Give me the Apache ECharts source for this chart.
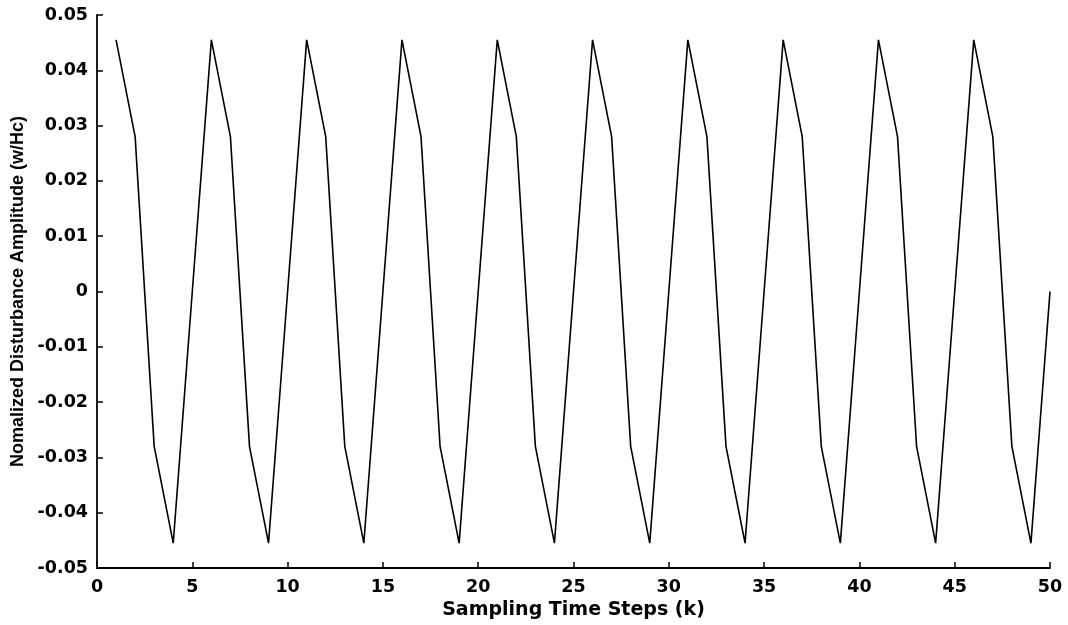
<!DOCTYPE html>
<html><head><meta charset="utf-8">
<script src="https://cdn.jsdelivr.net/npm/echarts@6/dist/echarts.min.js"></script>
<style>html,body{margin:0;padding:0;background:#fff}#c{width:1068px;height:625px}</style>
</head><body><div id="c"></div>
<script>
const steps = [1,2,3,4,5,6,7,8,9,10,11,12,13,14,15,16,17,18,19,20,21,22,23,24,25,26,27,28,29,30,31,32,33,34,35,36,37,38,39,40,41,42,43,44,45,46,47,48,49,50];
const amplitude = [
 0.0455, 0.028, -0.028, -0.0455, 0,
 0.0455, 0.028, -0.028, -0.0455, 0,
 0.0455, 0.028, -0.028, -0.0455, 0,
 0.0455, 0.028, -0.028, -0.0455, 0,
 0.0455, 0.028, -0.028, -0.0455, 0,
 0.0455, 0.028, -0.028, -0.0455, 0,
 0.0455, 0.028, -0.028, -0.0455, 0,
 0.0455, 0.028, -0.028, -0.0455, 0,
 0.0455, 0.028, -0.028, -0.0455, 0,
 0.0455, 0.028, -0.028, -0.0455, 0
];
const xTitle = 'Sampling Time Steps (k)';
const yTitle = 'Nomalized Disturbance Amplitude (w/Hc)';
const chart = echarts.init(document.getElementById('c'), null, {renderer:'canvas'});
const axisFont = {color:'#000', fontFamily:'DejaVu Sans, Liberation Sans, sans-serif', fontWeight:'bold', fontSize:17.5};
chart.setOption({
  animation:false,
  backgroundColor:'#fff',
  grid:{left:97, right:18, top:15, bottom:57, containLabel:false},
  xAxis:{type:'value', min:0, max:50, interval:5,
    name:xTitle, nameLocation:'middle', nameGap:30,
    nameTextStyle:{color:'#000', fontFamily:'DejaVu Sans, Liberation Sans, sans-serif', fontWeight:'bold', fontSize:19},
    axisLine:{show:true, onZero:false, lineStyle:{color:'#000', width:1.8}},
    axisTick:{show:true, inside:true, length:6, lineStyle:{color:'#000', width:1.5}},
    axisLabel:Object.assign({margin:10}, axisFont),
    splitLine:{show:false}},
  yAxis:{type:'value', min:-0.05, max:0.05, interval:0.01,
    name:yTitle, nameLocation:'middle', nameGap:69, nameRotate:90,
    nameTextStyle:{color:'#000', fontFamily:'Liberation Sans Narrow, Liberation Sans, Arial, sans-serif', fontWeight:'bold', fontSize:18},
    axisLine:{show:true, onZero:false, lineStyle:{color:'#000', width:1.8}},
    axisTick:{show:true, inside:true, length:6, lineStyle:{color:'#000', width:1.5}},
    axisLabel:Object.assign({margin:9, formatter:function(v){ if (Math.abs(v)<1e-9) return '0'; return v.toFixed(2);} }, axisFont),
    splitLine:{show:false}},
  series:[{type:'line', data:steps.map((k,i)=>[k, amplitude[i]]), showSymbol:false,
    lineStyle:{color:'#000', width:1.6}}]
});
</script></body></html>
